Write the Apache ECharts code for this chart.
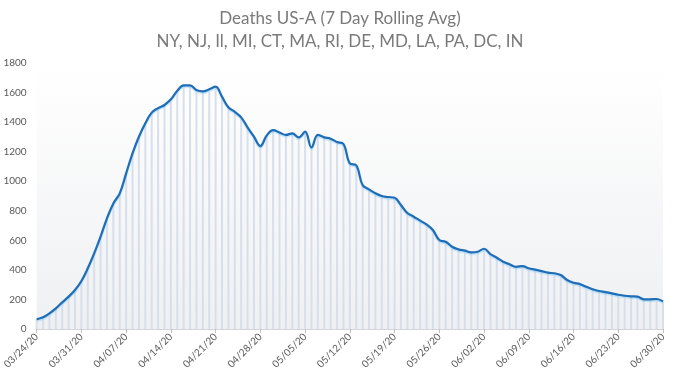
<!DOCTYPE html>
<html>
<head>
<meta charset="utf-8">
<script src="https://cdn.jsdelivr.net/npm/echarts@6/dist/echarts.min.js"></script>
<style>
  html, body { margin: 0; padding: 0; background: #fff; }
  #chart { width: 680px; height: 375px; }
</style>
</head>
<body>
<div id="chart"></div>
<script>
// daily dates 03/24/20 .. 06/30/20
const dates = [
  '03/24/20','03/25/20','03/26/20','03/27/20','03/28/20','03/29/20','03/30/20',
  '03/31/20','04/01/20','04/02/20','04/03/20','04/04/20','04/05/20','04/06/20',
  '04/07/20','04/08/20','04/09/20','04/10/20','04/11/20','04/12/20','04/13/20',
  '04/14/20','04/15/20','04/16/20','04/17/20','04/18/20','04/19/20','04/20/20',
  '04/21/20','04/22/20','04/23/20','04/24/20','04/25/20','04/26/20','04/27/20',
  '04/28/20','04/29/20','04/30/20','05/01/20','05/02/20','05/03/20','05/04/20',
  '05/05/20','05/06/20','05/07/20','05/08/20','05/09/20','05/10/20','05/11/20',
  '05/12/20','05/13/20','05/14/20','05/15/20','05/16/20','05/17/20','05/18/20',
  '05/19/20','05/20/20','05/21/20','05/22/20','05/23/20','05/24/20','05/25/20',
  '05/26/20','05/27/20','05/28/20','05/29/20','05/30/20','05/31/20','06/01/20',
  '06/02/20','06/03/20','06/04/20','06/05/20','06/06/20','06/07/20','06/08/20',
  '06/09/20','06/10/20','06/11/20','06/12/20','06/13/20','06/14/20','06/15/20',
  '06/16/20','06/17/20','06/18/20','06/19/20','06/20/20','06/21/20','06/22/20',
  '06/23/20','06/24/20','06/25/20','06/26/20','06/27/20','06/28/20','06/29/20',
  '06/30/20'
];

// 7 day rolling average of deaths
const deaths = [
  66, 79, 106, 140, 180, 219, 264,
  325, 411, 512, 625, 749, 850, 918,
  1053, 1189, 1301, 1392, 1464, 1495, 1516,
  1554, 1612, 1649, 1649, 1617, 1608, 1622,
  1640, 1572, 1500, 1470, 1432, 1365, 1301,
  1238, 1310, 1346, 1330, 1313, 1324, 1297,
  1335, 1229, 1313, 1297, 1288, 1265, 1252,
  1121, 1108, 974, 945, 918, 900, 893,
  888, 839, 785, 760, 733, 708, 670,
  602, 591, 557, 539, 530, 519, 523,
  543, 507, 482, 455, 438, 421, 426,
  411, 402, 392, 381, 377, 365, 332,
  313, 304, 286, 269, 257, 250, 241,
  232, 225, 221, 219, 201, 201, 203,
  187
];

const yTicks = { min: 0, max: 1800, step: 200 };

const chart = echarts.init(document.getElementById('chart'));

chart.setOption({
  backgroundColor: '#ffffff',
  animation: false,
  title: [
    {
      text: 'Deaths US-A (7 Day Rolling Avg)',
      left: 'center', top: 5,
      textStyle: { fontFamily: 'Lato', fontSize: 17, fontWeight: 'normal', color: '#7a7a7a' }
    },
    {
      text: 'NY, NJ, Il, MI, CT, MA, RI, DE, MD, LA, PA, DC, IN',
      left: 'center', top: 28,
      textStyle: { fontFamily: 'Lato', fontSize: 17, fontWeight: 'normal', color: '#7a7a7a' }
    }
  ],
  grid: {
    left: 33, right: 17, top: 63, bottom: 46,
    show: true, borderWidth: 0,
    backgroundColor: new echarts.graphic.LinearGradient(0, 0, 0, 1, [
      { offset: 0, color: '#ffffff' },
      { offset: 1, color: '#eff0f2' }
    ])
  },
  xAxis: {
    type: 'category',
    data: dates,
    boundaryGap: false,
    axisLine: { lineStyle: { color: '#d4d4d4', width: 1 } },
    axisTick: { show: true, interval: 6, length: 4, lineStyle: { color: '#bfbfbf' } },
    axisLabel: {
      interval: 6, rotate: 45, color: '#595959',
      fontFamily: 'Lato', fontSize: 10, margin: 6
    },
    splitLine: { show: false }
  },
  yAxis: {
    type: 'value',
    min: yTicks.min, max: yTicks.max, interval: yTicks.step,
    axisLine: { show: false },
    axisTick: { show: false },
    axisLabel: {
      color: '#595959', fontFamily: 'Lato', fontSize: 10, margin: 10,
      formatter: v => String(v)
    },
    splitLine: { show: false }
  },
  series: [
    {
      type: 'bar',
      data: deaths,
      barWidth: 2,
      itemStyle: { color: '#d8dfec' },
      silent: true
    },
    {
      type: 'line',
      data: deaths,
      smooth: 0.4,
      symbol: 'none',
      lineStyle: {
        color: '#1f6db5', width: 2.2,
        shadowColor: 'rgba(120,200,255,0.45)', shadowOffsetY: 1.5, shadowBlur: 1
      }
    }
  ]
});
</script>
</body>
</html>
